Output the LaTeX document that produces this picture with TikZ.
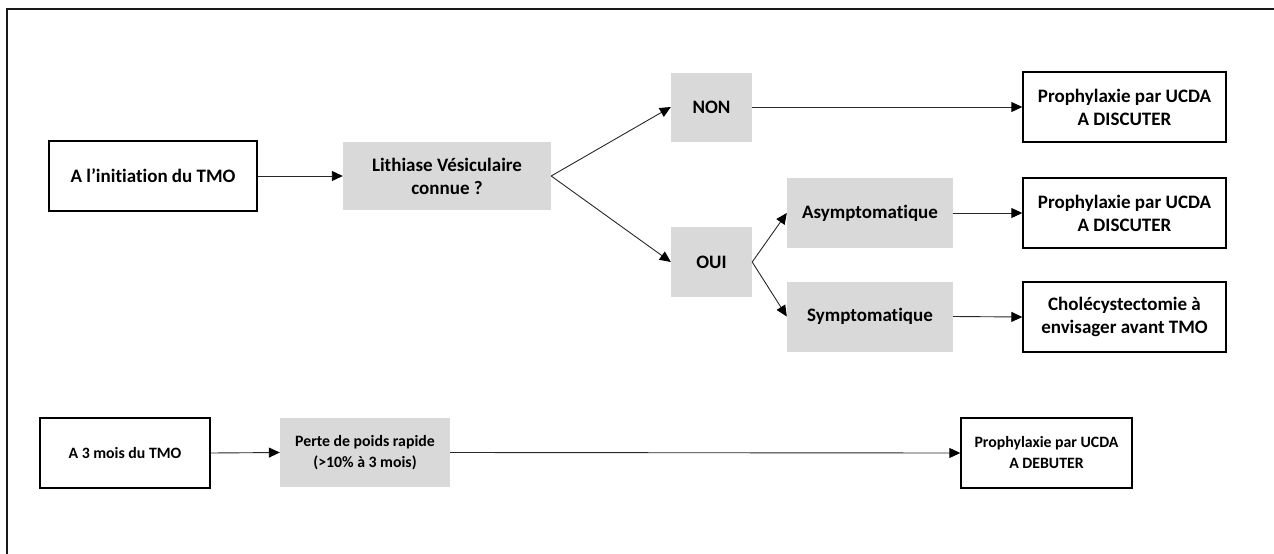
\documentclass[tikz,border=0pt]{standalone}
\usepackage{fontspec}
\setmainfont{Carlito}[Ligatures=NoCommon]
\usetikzlibrary{arrows.meta}
\definecolor{boxgray}{RGB}{217,217,217}
\definecolor{linecol}{RGB}{40,40,40}
\tikzset{
  px/.style={x=1pt,y=-1pt},
  boxfont/.style={font=\bfseries\fontsize{19}{23}\selectfont},
  smallfont/.style={font=\bfseries\fontsize{15.8}{21}\selectfont},
  whitebox/.style={draw=black,line width=1.4pt,fill=white,align=center,inner sep=0pt,boxfont},
  graybox/.style={draw=none,fill=boxgray,align=center,inner sep=0pt,boxfont},
  conn/.style={draw=linecol,line width=0.9pt,-{Triangle[length=11pt,width=10pt,color=black]}},
  frameline/.style={draw=black!90,line width=2pt}
}
\begin{document}
\begin{tikzpicture}[px]
\useasboundingbox (0,0) rectangle (1274,554);
\coordinate (ftl) at (6.5,8.5);
\coordinate (ftr) at (1274,8.5);
\coordinate (fbl) at (6.5,554);
\draw[frameline] (ftr) -- (ftl) -- (fbl);

% row 1
\node[whitebox,minimum width=208pt,minimum height=70pt] (init) at (153,176) {A l’initiation du TMO};
\node[graybox,minimum width=208pt,minimum height=68pt] (lith) at (447,176) {Lithiase Vésiculaire\\connue ?};
\node[graybox,minimum width=81pt,minimum height=69pt] (non) at (711.5,107) {NON};
\node[graybox,minimum width=81pt,minimum height=70pt] (oui) at (711.5,262) {OUI};
\node[graybox,minimum width=166pt,minimum height=70pt] (asym) at (870,213) {Asymptomatique};
\node[graybox,minimum width=166pt,minimum height=70pt] (sym) at (870,316.5) {Symptomatique};
\node[whitebox,minimum width=203pt,minimum height=70pt] (r1) at (1124.5,107) {Prophylaxie par UCDA\\A DISCUTER};
\node[whitebox,minimum width=203pt,minimum height=70pt] (r2) at (1124.5,213) {Prophylaxie par UCDA\\A DISCUTER};
\node[whitebox,minimum width=203pt,minimum height=70pt] (r3) at (1124.5,317) {Cholécystectomie à\\envisager avant TMO};

% row 2
\node[whitebox,smallfont,minimum width=170pt,minimum height=70pt] (trois) at (125,453) {A 3 mois du TMO};
\node[graybox,smallfont,minimum width=170pt,minimum height=69pt] (perte) at (365,452.5) {Perte de poids rapide\\(>10\% à 3 mois)};
\node[whitebox,smallfont,minimum width=171pt,minimum height=70pt] (r4) at (1046.5,453) {Prophylaxie par UCDA\\A DEBUTER};

\draw[conn] (init.east) -- (lith.west);
\draw[conn] (lith.east) -- (non.west);
\draw[conn] (lith.east) -- (oui.west);
\draw[conn] (non.east) -- (r1.west);
\draw[conn] (oui.east) -- (asym.west);
\draw[conn] (oui.east) -- (sym.west);
\draw[conn] (asym.east) -- (r2.west);
\draw[conn] (sym.east) -- (r3.west);
\draw[conn] (trois.east) -- (perte.west);
\draw[conn] (perte.east) -- (r4.west);
\end{tikzpicture}
\end{document}
